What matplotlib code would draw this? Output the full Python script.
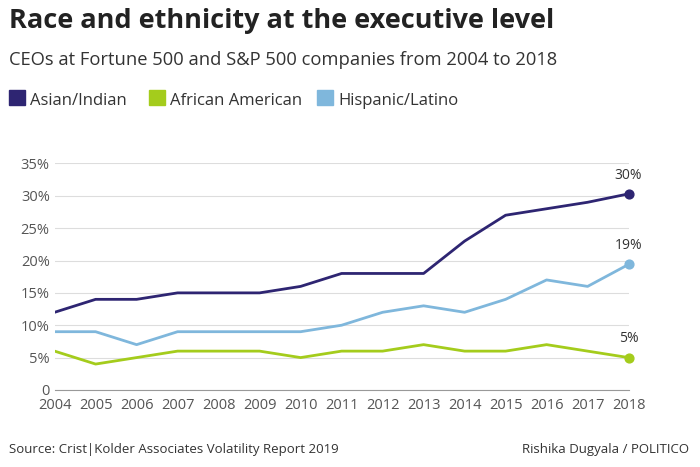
import matplotlib.pyplot as plt
import numpy as np

years = list(range(2004, 2019))
asian = [12, 14, 14, 15, 15, 15, 16, 18, 18, 18, 23, 27, 28, 29, 30.3]
african = [6, 4, 5, 6, 6, 6, 5, 6, 6, 7, 6, 6, 7, 6, 5]
hispanic = [9, 9, 7, 9, 9, 9, 9, 10, 12, 13, 12, 14, 17, 16, 19.4]
end_labels = ['30%', '5%', '19%']

c_asian = '#2e2572'
c_afr = '#a4cc1c'
c_hisp = '#7fb7dc'

plt.rcParams['font.family'] = ['Open Sans', 'DejaVu Sans']
fig = plt.figure(figsize=(7, 4.67), dpi=100)
ax = fig.add_axes([0.078, 0.165, 0.82, 0.485])

ax.plot(years, african, color=c_afr, lw=2)
ax.plot(years, hispanic, color=c_hisp, lw=2)
ax.plot(years, asian, color=c_asian, lw=2)
for s, c, lab in [(asian, c_asian, end_labels[0]), (african, c_afr, end_labels[1]), (hispanic, c_hisp, end_labels[2])]:
    ax.scatter([years[-1]], [s[-1]], color=c, s=40, zorder=5, clip_on=False)
    ax.annotate(lab, (years[-1], s[-1]), xytext=(0, 8), textcoords='offset points',
                ha='center', va='bottom', fontsize=10, color='#333333')

ax.set_xlim(2004, 2018)
ax.set_ylim(0, 35)
ax.set_xticks(years)
ax.set_yticks(range(0, 36, 5))
ax.set_yticklabels(['0'] + [f'{v}%' for v in range(5, 36, 5)])
ax.tick_params(axis='both', length=0, labelsize=10.5, colors='#555555')
ax.tick_params(axis='x', pad=6)
ax.grid(axis='y', color='#dddddd', lw=0.8)
for sp in ['top', 'right', 'left']:
    ax.spines[sp].set_visible(False)
ax.spines['bottom'].set_color('#999999')

fig.text(0.013, 0.94, 'Race and ethnicity at the executive level', fontsize=19.5, fontweight='bold', color='#222222')
fig.text(0.013, 0.86, 'CEOs at Fortune 500 and S&P 500 companies from 2004 to 2018', fontsize=13.2, color='#333333')
x = 0.013
for name, c, w in [('Asian/Indian', c_asian, 0.2), ('African American', c_afr, 0.24), ('Hispanic/Latino', c_hisp, 0.2)]:
    fig.patches.append(plt.Rectangle((x, 0.775), 0.022, 0.033, color=c, transform=fig.transFigure, figure=fig))
    fig.text(x + 0.03, 0.775, name, fontsize=12, color='#333333')
    x += w
fig.text(0.013, 0.03, 'Source: Crist|Kolder Associates Volatility Report 2019', fontsize=9.5, color='#333333')
fig.text(0.985, 0.03, 'Rishika Dugyala / POLITICO', fontsize=9.5, color='#333333', ha='right')

fig.savefig('out.png', dpi=100)
